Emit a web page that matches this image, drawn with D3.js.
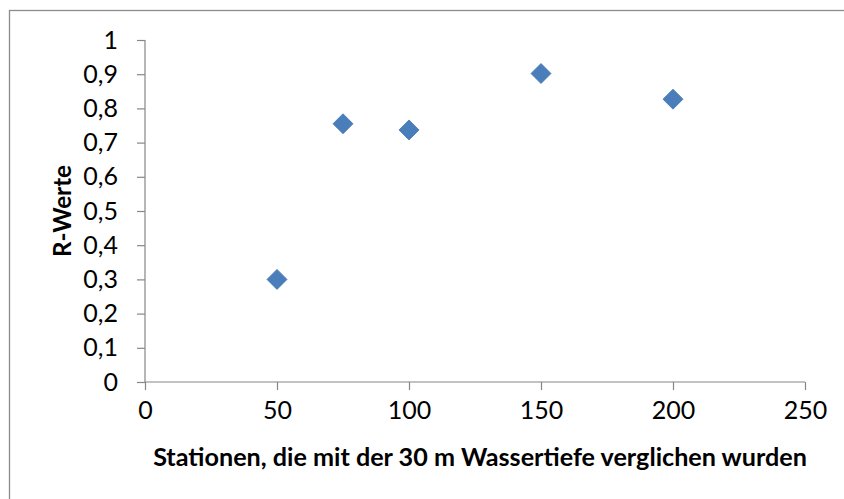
<!DOCTYPE html>
<html>
<head>
<meta charset="utf-8">
<script src="https://cdn.jsdelivr.net/npm/d3@7/dist/d3.min.js"></script>
<style>
  html, body { margin: 0; padding: 0; background: #fff; }
  svg { display: block; }
  text { font-family: Lato, "Open Sans", sans-serif; fill: #000; }
</style>
</head>
<body>
<svg id="chart" width="844" height="499"></svg>
<script>
// Stations compared with the 30 m water depth, and their R values
const stations = [50, 75, 100, 150, 200];
const rValues = [0.30, 0.755, 0.737, 0.902, 0.827];
const xTicks = [0, 50, 100, 150, 200, 250];
const yTicks = [0, 0.1, 0.2, 0.3, 0.4, 0.5, 0.6, 0.7, 0.8, 0.9, 1];
const xTitle = "Stationen, die mit der 30 m Wassertiefe verglichen wurden";
const yTitle = "R-Werte";

const W = 844, H = 499;
const plot = { left: 145, right: 805, top: 40, bottom: 382 };

const svg = d3.select("#chart");

// Outer chart frame (runs past the right and bottom edges)
svg.append("rect")
  .attr("x", 9.5).attr("y", 10.5)
  .attr("width", W + 20).attr("height", H + 20)
  .attr("fill", "#fff")
  .attr("stroke", "#8c8c8c")
  .attr("stroke-width", 1.3);

const x = d3.scaleLinear().domain([0, 250]).range([plot.left, plot.right]);
const y = d3.scaleLinear().domain([0, 1]).range([plot.bottom, plot.top]);

const axisColor = "#868686";
const tickFont = "25px";

// X axis
const gx = svg.append("g")
  .attr("transform", `translate(0,${plot.bottom})`)
  .call(d3.axisBottom(x).tickValues(xTicks).tickSize(8).tickPadding(11).tickFormat(d3.format("d")));
gx.select(".domain").attr("stroke", axisColor).attr("stroke-width", 1.2)
  .attr("d", `M${plot.left},0H${plot.right}`);
gx.selectAll(".tick line").attr("stroke", axisColor).attr("stroke-width", 1.2);
gx.selectAll(".tick text").style("font-size", tickFont).attr("fill", "#000");

// Y axis
const gy = svg.append("g")
  .attr("transform", `translate(${plot.left},0)`)
  .call(d3.axisLeft(y).tickValues(yTicks).tickSize(8).tickPadding(19)
    .tickFormat(d => d === 0 ? "0" : d === 1 ? "1" : d3.format(".1f")(d).replace(".", ",")));
gy.select(".domain").attr("stroke", axisColor).attr("stroke-width", 1.2)
  .attr("d", `M0,${plot.top}V${plot.bottom}`);
gy.selectAll(".tick line").attr("stroke", axisColor).attr("stroke-width", 1.2);
gy.selectAll(".tick text").style("font-size", tickFont).attr("fill", "#000");

// Axis titles, sized to their available span
function fitText(sel, target) {
  const len = sel.node().getComputedTextLength();
  const fs = parseFloat(sel.style("font-size"));
  sel.style("font-size", (fs * target / len) + "px");
}

const xt = svg.append("text")
  .attr("x", 480)
  .attr("y", 466)
  .attr("text-anchor", "middle")
  .style("font-size", "24px")
  .style("font-weight", "bold")
  .text(xTitle);
fitText(xt, 654);

const yt = svg.append("text")
  .attr("transform", `translate(71,${(plot.top + plot.bottom) / 2}) rotate(-90)`)
  .attr("text-anchor", "middle")
  .style("font-size", "24px")
  .style("font-weight", "bold")
  .text(yTitle);
fitText(yt, 92);

// Diamond markers
const diamond = d3.symbol().type(d3.symbolSquare).size(200);
svg.append("g").selectAll("path")
  .data(stations.map((s, i) => ({ s, r: rValues[i] })))
  .join("path")
  .attr("d", diamond)
  .attr("transform", d => `translate(${x(d.s)},${y(d.r)}) rotate(45)`)
  .attr("fill", "#4a7ebb")
  .attr("stroke", "#4778b3")
  .attr("stroke-width", 0.8);
</script>
</body>
</html>
